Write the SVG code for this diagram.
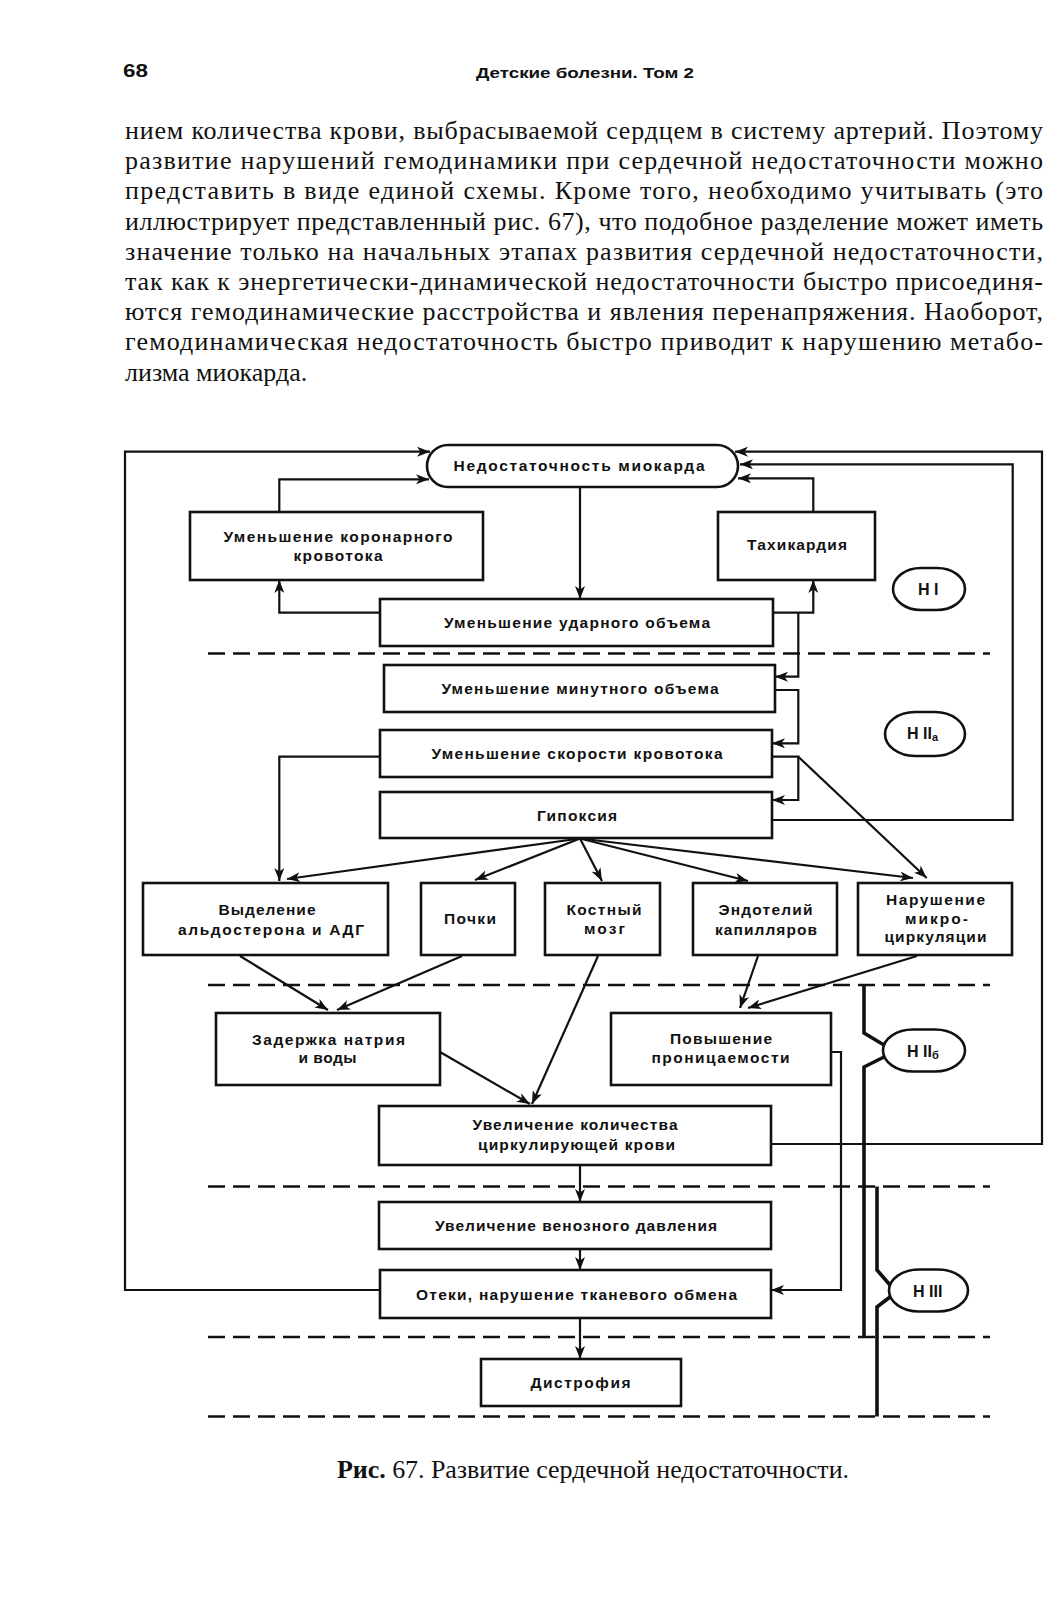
<svg xmlns="http://www.w3.org/2000/svg" width="1061" height="1601" viewBox="0 0 1061 1601">
<style>
.bg{fill:#fff}
.box{fill:#fff;stroke:#111;stroke-width:2.6}
.c{fill:none;stroke:#111;stroke-width:2.2}
.ca{fill:none;stroke:#111;stroke-width:2.2;marker-end:url(#ah)}
.dash{fill:none;stroke:#111;stroke-width:2.6;stroke-dasharray:17 8}
.br{fill:none;stroke:#111;stroke-width:3.6;stroke-linejoin:miter}
.t{font-family:"Liberation Sans",Arial,sans-serif;font-weight:bold;font-size:15.5px;fill:#111;text-anchor:middle}
.lbl{font-family:"Liberation Sans",Arial,sans-serif;font-weight:bold;font-size:16px;fill:#111}
.sub{font-size:11px}
.body{font-family:"Liberation Serif","Times New Roman",serif;font-size:26px;fill:#111}
.hdr{font-family:"Liberation Sans",Arial,sans-serif;font-weight:bold;fill:#111}
</style>
<defs>
<marker id="ah" viewBox="0 0 13 10" refX="13" refY="5" markerWidth="13" markerHeight="10" orient="auto" markerUnits="userSpaceOnUse">
<path d="M0,0 L13,5 L0,10 L3.5,5 z" fill="#111"/>
</marker>
</defs>
<rect class="bg" x="0" y="0" width="1061" height="1601"/>

<g id="page-header">
<text class="hdr" x="123" y="77" font-size="19" textLength="25" lengthAdjust="spacingAndGlyphs">68</text>
<text class="hdr" x="476" y="78" font-size="15.5" textLength="218" lengthAdjust="spacingAndGlyphs">Детские болезни. Том 2</text>
</g>

<g id="body-text" class="body">
<text x="125" y="139" textLength="918" lengthAdjust="spacing">нием количества крови, выбрасываемой сердцем в систему артерий. Поэтому</text>
<text x="125" y="169" textLength="918" lengthAdjust="spacing">развитие нарушений гемодинамики при сердечной недостаточности можно</text>
<text x="125" y="199" textLength="918" lengthAdjust="spacing">представить в виде единой схемы. Кроме того, необходимо учитывать (это</text>
<text x="125" y="230" textLength="918" lengthAdjust="spacing">иллюстрирует представленный рис. 67), что подобное разделение может иметь</text>
<text x="125" y="260" textLength="918" lengthAdjust="spacing">значение только на начальных этапах развития сердечной недостаточности,</text>
<text x="125" y="290" textLength="918" lengthAdjust="spacing">так как к энергетически-динамической недостаточности быстро присоединя-</text>
<text x="125" y="320" textLength="918" lengthAdjust="spacing">ются гемодинамические расстройства и явления перенапряжения. Наоборот,</text>
<text x="125" y="350" textLength="918" lengthAdjust="spacing">гемодинамическая недостаточность быстро приводит к нарушению метабо-</text>
<text x="125" y="381">лизма миокарда.</text>
</g>

<g id="stage-lines">
<line class="dash" x1="208" y1="653.5" x2="990" y2="653.5"/>
<line class="dash" x1="208" y1="985" x2="990" y2="985"/>
<line class="dash" x1="208" y1="1186.5" x2="990" y2="1186.5"/>
<line class="dash" x1="208" y1="1337" x2="990" y2="1337"/>
<line class="dash" x1="208" y1="1416.5" x2="990" y2="1416.5"/>
</g>

<g id="connectors">
<path class="ca" d="M580,487 V599"/>
<path class="ca" d="M380,612.7 H279.3 V580"/>
<path class="ca" d="M279.3,512 V479.3 H429"/>
<path class="ca" d="M380,1290 H125 V451.7 H430"/>
<path class="ca" d="M772.7,612.7 H813.3 V580"/>
<path class="ca" d="M813.3,512 V478.3 H738"/>
<path class="ca" d="M772,820 H1012.7 V464.3 H740"/>
<path class="ca" d="M771,1144 H1042 V451.7 H735"/>
<path class="ca" d="M798.3,612.7 V676.7 H775"/>
<path class="ca" d="M775,690 H798.3 V743.3 H772"/>
<path class="ca" d="M772,756.7 H798.3 V800 H772"/>
<path class="ca" d="M798.3,756.7 L926.7,878"/>
<path class="ca" d="M380,756.7 H279.3 V881"/>
<path class="ca" d="M580,838.5 L287,879"/>
<path class="ca" d="M580,838.5 L475,880"/>
<path class="ca" d="M580,838.5 L602,881"/>
<path class="ca" d="M580,838.5 L748,881"/>
<path class="ca" d="M580,838.5 L913,878"/>
<path class="ca" d="M240,956 L328,1010"/>
<path class="ca" d="M462,956 L337,1010"/>
<path class="ca" d="M598,956 L532,1104"/>
<path class="ca" d="M440,1052 L530,1104"/>
<path class="ca" d="M758,956 L740,1008"/>
<path class="ca" d="M917,956 L748,1008"/>
<path class="ca" d="M831,1052 H841 V1290 H771"/>
<path class="ca" d="M580,1165 V1202"/>
<path class="ca" d="M580,1249 V1270"/>
<path class="ca" d="M580,1318 V1359"/>
<path class="br" d="M864,985 V1033 L884,1045"/>
<path class="br" d="M884,1057 L864,1067 V1337"/>
<path class="br" d="M877,1186.5 V1270 L890,1285"/>
<path class="br" d="M890,1297 L877,1307 V1416.5"/>
</g>

<g id="n-myocard"><rect class="box" x="427" y="445" width="311" height="42" rx="21"/><text class="t" x="579" y="471" textLength="251">Недостаточность миокарда</text></g>
<g id="n-coronary"><rect class="box" x="190" y="512" width="293" height="68"/><text class="t" x="338" y="542" textLength="229">Уменьшение коронарного</text><text class="t" x="338" y="561" textLength="89">кровотока</text></g>
<g id="n-tachy"><rect class="box" x="718" y="512" width="157" height="68"/><text class="t" x="797" y="549.5" textLength="100">Тахикардия</text></g>
<g id="n-stroke"><rect class="box" x="380" y="599" width="393" height="47"/><text class="t" x="577" y="628" textLength="266">Уменьшение ударного объема</text></g>
<g id="n-minute"><rect class="box" x="384" y="665" width="391" height="47"/><text class="t" x="580" y="694" textLength="277">Уменьшение минутного объема</text></g>
<g id="n-velocity"><rect class="box" x="380" y="730" width="392" height="47"/><text class="t" x="577" y="759" textLength="291">Уменьшение скорости кровотока</text></g>
<g id="n-hypoxia"><rect class="box" x="380" y="792" width="392" height="46"/><text class="t" x="577" y="820.5" textLength="80">Гипоксия</text></g>
<g id="n-aldo"><rect class="box" x="143" y="883" width="245" height="72"/><text class="t" x="267" y="915" textLength="97">Выделение</text><text class="t" x="271" y="935" textLength="186">альдостерона и АДГ</text></g>
<g id="n-kidney"><rect class="box" x="421" y="883" width="94" height="72"/><text class="t" x="470" y="924" textLength="52">Почки</text></g>
<g id="n-marrow"><rect class="box" x="545" y="883" width="115" height="72"/><text class="t" x="604" y="915" textLength="75">Костный</text><text class="t" x="604.5" y="933.5" textLength="41">мозг</text></g>
<g id="n-endo"><rect class="box" x="693" y="883" width="144" height="72"/><text class="t" x="765.5" y="915" textLength="94">Эндотелий</text><text class="t" x="766" y="935" textLength="102">капилляров</text></g>
<g id="n-micro"><rect class="box" x="858" y="883" width="154" height="72"/><text class="t" x="935.5" y="905" textLength="99">Нарушение</text><text class="t" x="936.5" y="923.5" textLength="63">микро-</text><text class="t" x="935.5" y="942" textLength="102">циркуляции</text></g>
<g id="n-sodium"><rect class="box" x="216" y="1013" width="224" height="72"/><text class="t" x="328.5" y="1045" textLength="153">Задержка натрия</text><text class="t" x="327.5" y="1063" textLength="58">и воды</text></g>
<g id="n-perm"><rect class="box" x="611" y="1013" width="220" height="72"/><text class="t" x="721" y="1043.5" textLength="102">Повышение</text><text class="t" x="720.5" y="1063" textLength="138">проницаемости</text></g>
<g id="n-circ"><rect class="box" x="379" y="1106" width="392" height="59"/><text class="t" x="575" y="1130" textLength="205">Увеличение количества</text><text class="t" x="576.5" y="1149.5" textLength="197">циркулирующей крови</text></g>
<g id="n-venous"><rect class="box" x="379" y="1202" width="392" height="47"/><text class="t" x="576" y="1231" textLength="282">Увеличение венозного давления</text></g>
<g id="n-edema"><rect class="box" x="380" y="1270" width="391" height="48"/><text class="t" x="576.5" y="1299.5" textLength="321">Отеки, нарушение тканевого обмена</text></g>
<g id="n-dystrophy"><rect class="box" x="481" y="1359" width="200" height="47"/><text class="t" x="580.5" y="1388" textLength="100">Дистрофия</text></g>

<g id="s-HI"><rect class="box" x="893" y="568" width="72" height="42" rx="28" ry="21"/><text class="lbl" x="918" y="595">Н I</text></g>
<g id="s-HIIa"><rect class="box" x="885" y="712" width="80" height="44" rx="30" ry="22"/><text class="lbl" x="907" y="739">Н II<tspan class="sub" dy="2">а</tspan></text></g>
<g id="s-HIIb"><rect class="box" x="883" y="1029.5" width="82" height="42" rx="30" ry="21"/><text class="lbl" x="907" y="1056.5">Н II<tspan class="sub" dy="2">б</tspan></text></g>
<g id="s-HIII"><rect class="box" x="889" y="1269.5" width="79" height="42" rx="30" ry="21"/><text class="lbl" x="913" y="1297">Н III</text></g>

<g id="caption">
<text x="337" y="1478" font-family="Liberation Serif,'Times New Roman',serif" font-size="26" fill="#111" textLength="512"><tspan font-weight="bold">Рис.</tspan> 67. Развитие сердечной недостаточности.</text>
</g>
</svg>
